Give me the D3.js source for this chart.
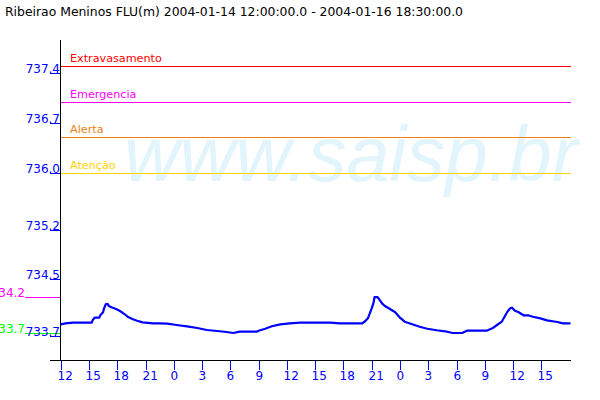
<!DOCTYPE html>
<html>
<head>
<meta charset="utf-8">
<script src="https://cdn.jsdelivr.net/npm/d3@7"></script>
<style>
  html, body { margin: 0; padding: 0; background: #fff; }
  svg { display: block; }
  text { font-family: "DejaVu Sans", sans-serif; }
</style>
</head>
<body>
<svg id="chart" width="600" height="400"></svg>
<script>
// ---- data ----
const title = "Ribeirao Meninos FLU(m) 2004-01-14 12:00:00.0 - 2004-01-16 18:30:00.0";
const startTime = Date.UTC(2004, 0, 14, 12, 0);
const endTime = Date.UTC(2004, 0, 16, 18, 30);

// hours after start
const hours = [0, 0.5, 1.3, 3.3, 3.4, 3.6, 4.1, 4.2, 4.5, 4.6, 4.8, 5.0, 5.1, 5.4, 5.8, 6.1, 6.5, 6.8, 7.1, 7.6,
  8.1, 8.7, 9.8, 10.5, 11.3, 12.3, 13.4, 14.5, 15.5, 16.6, 17.6, 18.3, 19.0, 20.8, 21.0, 21.7, 22.4, 23.3, 24.3, 25.4,
  28.6, 29.6, 32.0, 32.3, 32.6, 32.8, 33.0, 33.2, 33.3, 33.6, 33.8, 34.1, 34.4, 34.9, 35.5, 36.0, 36.5, 37.3, 38.1, 38.9,
  39.9, 41.0, 41.6, 42.6, 43.1, 45.2, 45.8, 46.3, 46.8, 47.1, 47.4, 47.7, 47.9, 48.2, 48.6, 49.1, 49.6, 50.1, 50.9, 51.6,
  52.7, 53.3, 54.1];
const levels = [733.867, 733.881, 733.890, 733.890, 733.928, 733.960, 733.960, 733.994, 734.036, 734.092, 734.153, 734.153, 734.124, 734.106, 734.086, 734.068, 734.036, 734.008, 733.974, 733.942,
  733.918, 733.895, 733.881, 733.881, 733.876, 733.857, 733.839, 733.815, 733.787, 733.773, 733.759, 733.745, 733.763, 733.763, 733.777, 733.805, 733.839, 733.867, 733.881, 733.890,
  733.890, 733.881, 733.881, 733.910, 733.951, 734.022, 734.092, 734.171, 734.250, 734.250, 734.219, 734.162, 734.124, 734.086, 734.036, 733.960, 733.904, 733.867, 733.833, 733.805,
  733.783, 733.763, 733.745, 733.745, 733.777, 733.777, 733.811, 733.857, 733.904, 733.974, 734.044, 734.092, 734.101, 734.058, 734.036, 733.994, 733.994, 733.974, 733.951, 733.922,
  733.899, 733.881, 733.881];

const thresholdNames = ["Extravasamento", "Emergencia", "Alerta", "Atenção"];
const thresholdValues = [737.5, 737.0, 736.5, 736.0];
const yTickValues = [733.7, 734.5, 735.2, 736.0, 736.7, 737.4];
const watermark = "www.saisp.br";

// ---- styles ----
const thresholdColors = ["#ff0000", "#ff00ff", "#f08010", "#ffd400"];
const axisBlue = "#0000ff";

const svg = d3.select("#chart");
svg.append("rect").attr("width", 600).attr("height", 400).attr("fill", "#fff");

const x = d3.scaleUtc().domain([new Date(startTime), new Date(endTime)]).range([60.7, 574.3]);
const y = d3.scaleLinear().domain([733.365, 737.866]).range([360, 40]);

const data = hours.map((h, i) => ({ t: new Date(startTime + h * 3600e3), v: levels[i] }));

// watermark
svg.append("text")
  .attr("x", 124).attr("y", 181)
  .style("font-family", "'Liberation Sans', Arial, sans-serif")
  .attr("font-style", "italic")
  .attr("font-size", 77)
  .attr("fill", "#e2f4fc")
  .text(watermark);

// title
svg.append("text").attr("x", 5).attr("y", 16)
  .attr("font-size", 12.4).attr("fill", "#000").text(title);

// threshold lines
const th = svg.append("g");
thresholdValues.forEach((v, i) => {
  const yy = Math.round(y(v)) + 0.5;
  th.append("line").attr("x1", 60).attr("x2", 571).attr("y1", yy).attr("y2", yy)
    .attr("stroke", thresholdColors[i]).attr("stroke-width", 1);
  th.append("text").attr("x", 70).attr("y", yy - 5)
    .attr("font-size", 11.2).attr("fill", thresholdColors[i]).text(thresholdNames[i]);
});

// max / min markers
const vmax = d3.max(levels), vmin = d3.min(levels);
const trunc = v => (Math.floor(v * 10 + 1e-6) / 10).toFixed(1);
[[vmax, "#ff00ff"], [vmin, "#00ff00"]].forEach(([v, c]) => {
  const yy = Math.round(y(v)) + 0.5;
  svg.append("line").attr("x1", 25).attr("x2", 60).attr("y1", yy).attr("y2", yy)
    .attr("stroke", c).attr("stroke-width", 1);
  svg.append("text").attr("x", 25).attr("y", yy - 0.5).attr("text-anchor", "end")
    .attr("font-size", 12).attr("fill", c).text(trunc(v));
});

// y axis
svg.append("line").attr("x1", 60.5).attr("x2", 60.5).attr("y1", 40).attr("y2", 360)
  .attr("stroke", "#000");
const yt = svg.append("g");
yTickValues.forEach(v => {
  const yy = Math.round(y(v)) + 0.5;
  yt.append("line").attr("x1", 50).attr("x2", 60).attr("y1", yy).attr("y2", yy).attr("stroke", axisBlue);
  yt.append("text").attr("x", 60).attr("y", yy - 0.5).attr("text-anchor", "end")
    .attr("font-size", 12).attr("fill", axisBlue).text(d3.format(".1f")(v));
});

// x axis
svg.append("line").attr("x1", 50).attr("x2", 571).attr("y1", 360.5).attr("y2", 360.5)
  .attr("stroke", "#000");
const xTicks = x.ticks(d3.utcHour.every(3)).filter(d => x(d) <= 560);
const xt = svg.append("g");
const fmt = d3.utcFormat("%-H");
xTicks.forEach(d => {
  const xx = Math.round(x(d)) + 0.5;
  xt.append("line").attr("x1", xx).attr("x2", xx).attr("y1", 361).attr("y2", 370).attr("stroke", axisBlue);
  xt.append("text").attr("x", xx - 4).attr("y", 380)
    .attr("font-size", 12).attr("fill", axisBlue).text(fmt(d));
});

// data line
const line = d3.line().x(d => x(d.t)).y(d => y(d.v));
svg.append("path").datum(data).attr("d", line)
  .attr("fill", "none").attr("stroke", "#0000ff").attr("stroke-width", 2.2)
  .attr("stroke-linejoin", "round");
</script>
</body>
</html>
